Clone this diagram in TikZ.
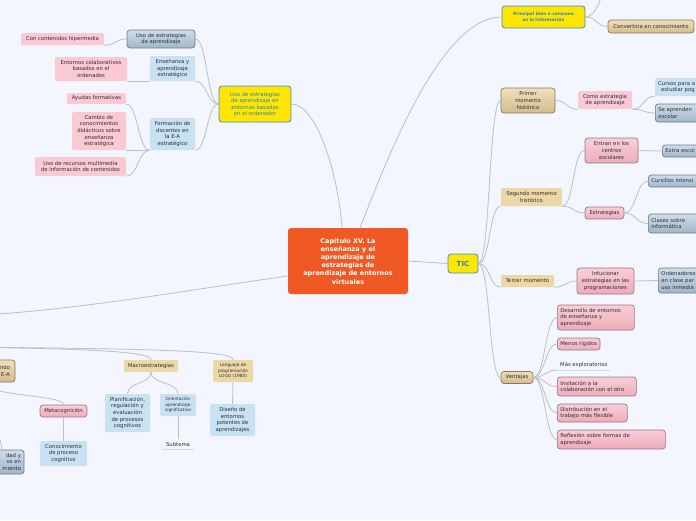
\documentclass[tikz,border=0pt]{standalone}
\usepackage{tikz}
\usepackage{fontspec}
\setmainfont{DejaVu Sans}

\definecolor{bgc}{RGB}{243,246,254}
\definecolor{txt}{RGB}{45,45,50}
\definecolor{linec}{RGB}{190,190,196}
\definecolor{ulinec}{RGB}{214,218,226}
\definecolor{orangec}{RGB}{240,89,35}
\definecolor{yfill}{RGB}{255,230,0}
\definecolor{ybord}{RGB}{55,140,215}
\definecolor{ytext}{RGB}{40,128,210}
\definecolor{pinkc}{RGB}{251,201,211}
\definecolor{pinktop}{RGB}{250,206,215}
\definecolor{pinkbot}{RGB}{238,172,186}
\definecolor{pinkedge}{RGB}{150,120,128}
\definecolor{bluec}{RGB}{200,226,244}
\definecolor{greytop}{RGB}{206,221,233}
\definecolor{greybot}{RGB}{160,182,200}
\definecolor{greyedge}{RGB}{110,125,138}
\definecolor{tanc}{RGB}{236,216,166}
\definecolor{tantop}{RGB}{239,223,186}
\definecolor{tanbot}{RGB}{210,188,140}
\definecolor{tanedge}{RGB}{135,120,95}

\tikzset{
  mapnode/.style={font=\fontsize{5.3}{6.6}\selectfont, text=txt, inner xsep=3pt, inner ysep=2.8pt, align=center},
  smallnode/.style={mapnode, font=\fontsize{4.3}{5.5}\selectfont},
  pinkflat/.style={mapnode, fill=pinkc, rounded corners=1.5pt},
  blueflat/.style={mapnode, fill=bluec, rounded corners=1.5pt},
  tanflat/.style={mapnode, fill=tanc, rounded corners=1.5pt},
  pinkbox/.style={mapnode, draw=pinkedge, top color=pinktop, bottom color=pinkbot, rounded corners=3pt, line width=0.7pt},
  greybox/.style={mapnode, draw=greyedge, top color=greytop, bottom color=greybot, rounded corners=3pt, line width=0.7pt},
  tanbox/.style={mapnode, draw=tanedge, top color=tantop, bottom color=tanbot, rounded corners=3pt, line width=0.7pt},
  yellowbox/.style={mapnode, draw=ybord, fill=yfill, rounded corners=3pt, line width=0.8pt, text=ytext},
  titlebox/.style={fill=orangec, rounded corners=3pt, text=white, align=center, font=\fontsize{6.5}{8.2}\selectfont\bfseries},
  plaintext/.style={mapnode},
  link/.style={draw=linec, line width=0.8pt},
  uline/.style={draw=ulinec, line width=0.8pt}
}

\newcommand{\rlink}[2]{\draw[link] (#1) .. controls +(12,0) and +(-12,0) .. (#2);}
\newcommand{\llink}[2]{\draw[link] (#1) .. controls +(-12,0) and +(12,0) .. (#2);}
\newcommand{\dlink}[2]{\draw[link] (#1) .. controls +(0,12) and +(0,-12) .. (#2);}

\begin{document}
\begin{tikzpicture}[x=1pt,y=-1pt]
  \path[use as bounding box] (0,0) rectangle (696,520);
  \clip (0,0) rectangle (696,520);
  \fill[bgc] (0,0) rectangle (696,520);

  % centre
  \node[titlebox, minimum width=120pt, minimum height=66pt] (title) at (348,261) {Capítulo XV. La\\enseñanza y el\\aprendizaje de\\estrategias de\\aprendizaje de entornos\\virtuales};

  % left branch
  \node[yellowbox, minimum width=72pt, minimum height=36pt] (ylw) at (255,104) {Uso de estrategias\\de aprendizaje en\\entornos basados\\en el ordenador};
  \node[greybox, minimum width=68pt, minimum height=18pt] (usoest) at (161,39) {Uso de estrategias\\de aprendizaje};
  \node[pinkflat, minimum width=83pt, minimum height=12pt] (hiper) at (62.5,39) {Con contenidos hipermedia};
  \node[blueflat, minimum width=45pt, minimum height=25pt] (ensen) at (172.5,68.5) {Enseñanza y\\aprendizaje\\estratégico};
  \node[pinkflat, minimum width=72pt, minimum height=24pt] (colab) at (91,69) {Entornos colaborativos\\basados en el\\ordenados};
  \node[blueflat, minimum width=45pt, minimum height=32pt] (formac) at (172.5,134) {Formación de\\docentes en\\la E-A\\estratégico};
  \node[pinkflat, minimum width=59pt, minimum height=11pt] (ayudas) at (96.5,98.5) {Ayudas formativas};
  \node[pinkflat, minimum width=54pt, minimum height=38pt] (cambio) at (99,131) {Cambio de\\conocimientos\\didácticos sobre\\enseñanza\\estratégica};
  \node[pinkflat, minimum width=91pt, minimum height=19pt] (recursos) at (80.5,166.5) {Uso de recursos multimedia\\de información de contenidos};

  \draw[link] ([xshift=-6pt]title.north) .. controls +(-4,-55) and +(25,0) .. (ylw.east);
  \llink{ylw.west}{usoest.east}
  \llink{ylw.west}{ensen.south east}
  \llink{ylw.west}{formac.south east}
  \llink{usoest.west}{hiper.south east}
  \draw[link] (ensen.south west) -- (colab.south east);
  \llink{formac.south west}{ayudas.south east}
  \draw[link] (formac.south west) -- (cambio.south east);
  \llink{formac.south west}{recursos.south east}

  % right branch
  \node[yellowbox, minimum width=30pt, minimum height=19pt, font=\fontsize{7}{8}\selectfont\bfseries] (tic) at (463,263.5) {TIC};
  \node[yellowbox, minimum width=83pt, minimum height=22pt, font=\fontsize{4.3}{5.4}\selectfont\bfseries] (princ) at (543.5,17) {Principal bien e consumo\\es la información};
  \node[tanbox, minimum width=86pt, minimum height=13pt] (conv) at (651,26.5) {Convertiría en conocimiento};
  \coordinate (upper) at (603,-15);

  \node[tanbox, minimum width=54pt, minimum height=25pt] (primer) at (528,100.5) {Primer\\momento\\histórico};
  \node[pinkflat, minimum width=54pt, minimum height=18pt] (comoest) at (605,100) {Como estrategia\\de aprendizaje};
  \node[blueflat, anchor=west, text width=56pt, align=left, minimum height=18pt] (cursos) at (655,87) {Cursos para a\\\hspace*{3pt}estudiar pog};
  \node[greybox, anchor=west, text width=56pt, align=left, minimum height=18pt] (seapr) at (655,113) {Se aprenden\\escolar};

  \node[tanflat, minimum width=61pt, minimum height=18pt] (segundo) at (531.5,197) {Segundo momento\\histórico};
  \node[pinkbox, minimum width=53pt, minimum height=25pt] (entran) at (611.5,150.5) {Entran en los\\centros\\escolares};
  \node[greybox, anchor=west, text width=56pt, align=left, minimum height=12pt] (extra) at (662,151) {Extra escol};
  \node[pinkbox, minimum width=39pt, minimum height=12pt] (estrat) at (604.5,213) {Estrategias};
  \node[greybox, anchor=west, text width=60pt, align=left, minimum height=12pt] (cursillos) at (648,181) {Cursillos intensi};
  \node[greybox, anchor=west, text width=60pt, align=left, minimum height=19pt] (clases) at (648,223.5) {Clases sobre\\informática};

  \node[tanflat, minimum width=53pt, minimum height=12pt] (tercer) at (527.5,281) {Tercer momento};
  \node[pinkbox, minimum width=57pt, minimum height=26pt] (infuc) at (605.5,281) {Infucionar\\estrategias en las\\programaciones};
  \node[greybox, anchor=west, text width=56pt, align=left, minimum height=25pt] (orden) at (658,280.5) {Ordenadores\\en clase par\\uso inmedia};

  \node[tanbox, minimum width=32pt, minimum height=12pt] (ventajas) at (517,377.5) {Ventajas};
  \node[pinkbox, anchor=west, text width=71pt, align=left, minimum height=25pt] (desarr) at (557,317.5) {Desarrollo de entornos\\de enseñanza y\\aprendizaje};
  \node[pinkbox, anchor=west, minimum height=12pt] (menos) at (557,344) {Menos rígidos};
  \node[plaintext, anchor=west] (masexp) at (557,364.5) {Más exploratorios};
  \node[pinkbox, anchor=west, text width=73pt, align=left, minimum height=19pt] (invit) at (557,386.5) {Invitación a la\\colaboración con el otro};
  \node[pinkbox, anchor=west, text width=64pt, align=left, minimum height=18pt] (distr) at (557,413) {Distribución en el\\trabajo más flexible};
  \node[pinkbox, anchor=west, text width=102pt, align=left, minimum height=19pt] (reflex) at (557,439.5) {Reflexión sobre formas de\\aprendizaje};

  \draw[link] (title.east) -- (tic.west);
  \draw[link] ([xshift=12pt]title.north) .. controls +(25,-63) and +(-62,0) .. (princ.west);
  \draw[link] (princ.east) .. controls +(10,0) and +(0,12) .. (upper);
  \rlink{princ.east}{conv.west}
  \rlink{tic.east}{primer.west}
  \rlink{tic.east}{segundo.south west}
  \rlink{tic.east}{tercer.south west}
  \rlink{tic.east}{ventajas.west}
  \rlink{primer.east}{comoest.south west}
  \rlink{comoest.south east}{cursos.south west}
  \rlink{comoest.south east}{seapr.west}
  \rlink{segundo.south east}{entran.west}
  \rlink{segundo.south east}{estrat.west}
  \draw[link] (entran.east) -- (extra.west);
  \rlink{estrat.east}{cursillos.west}
  \rlink{estrat.east}{clases.west}
  \rlink{tercer.south east}{infuc.west}
  \draw[link] (infuc.east) -- (orden.west);
  \rlink{ventajas.east}{desarr.west}
  \rlink{ventajas.east}{menos.west}
  \rlink{ventajas.east}{masexp.south west}
  \rlink{ventajas.east}{invit.west}
  \rlink{ventajas.east}{distr.west}
  \rlink{ventajas.east}{reflex.west}
  \draw[uline] (masexp.south west) -- (masexp.south east);

  % lower left branch
  \coordinate (lft) at (-40,316);
  \coordinate (org) at (-30,347);
  \node[tanbox, text width=50pt, align=right, inner xsep=5pt, minimum height=22pt] (ndo) at (-15,371) {ndo\\E-A};
  \node[greybox, text width=38pt, align=right, minimum height=24pt] (dady) at (2,462) {dad y\\os en\\miento};
  \node[pinkbox, minimum width=47pt, minimum height=12pt] (meta) at (63.5,411) {Metacognición};
  \node[blueflat, minimum width=47pt, minimum height=25pt] (conoc) at (63.5,453.5) {Conocimiento\\de proceso\\cognitivo};
  \node[tanflat, minimum width=54pt, minimum height=12pt] (macro) at (151,366) {Macroestrategias};
  \node[blueflat, minimum width=45pt, minimum height=38pt] (planif) at (127.5,413) {Planificación,\\regulación y\\evaluación\\de procesos\\cognitivos};
  \node[blueflat, smallnode, minimum width=36pt, minimum height=22pt] (orient) at (178,405) {Orientación\\aprendizaje\\significativo};
  \node[plaintext, minimum width=32pt] (subtema) at (178,444.5) {Subtema};
  \node[tanflat, smallnode, minimum width=40pt, minimum height=22pt] (logo) at (233,371) {Lenguaje de\\programación\\LOGO (1980)};
  \node[blueflat, minimum width=45pt, minimum height=32pt] (diseno) at (232.5,420) {Diseño de\\entornos\\potentes de\\aprendizajes};

  \draw[link] ([yshift=-15pt]title.west) .. controls +(-100,14) and +(100,-3) .. (lft);
  \draw[link] (org) .. controls +(90,2) and +(0,-10) .. (macro.north);
  \draw[link] (org) .. controls +(170,2) and +(0,-10) .. (logo.north);
  \draw[link] (ndo.south) .. controls +(0,14) and +(0,-10) .. (meta.north);
  \draw[link] (ndo.south) .. controls +(0,40) and +(0,-14) .. (dady.north);
  \draw[link] (meta.south) -- (conoc.north);
  \dlink{macro.south}{planif.north}
  \dlink{macro.south}{orient.north}
  \draw[link] (orient.south) -- (subtema.north);
  \draw[uline] (subtema.south west) -- (subtema.south east);
  \draw[link] (logo.south) -- (diseno.north);
\end{tikzpicture}
\end{document}
